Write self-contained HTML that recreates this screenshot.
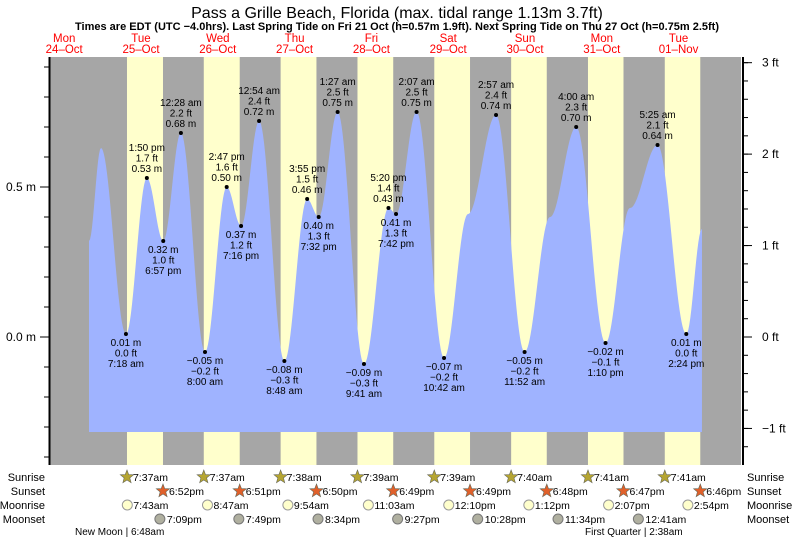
<!DOCTYPE html>
<html><head><meta charset="utf-8"><style>
html,body{margin:0;padding:0;background:#fff;}
svg{display:block;font-family:"Liberation Sans",sans-serif;}
</style></head><body>
<svg id="c" width="793" height="539" viewBox="0 0 793 539" xmlns="http://www.w3.org/2000/svg">
<text x="397" y="18" text-anchor="middle" font-size="16" fill="#000">Pass a Grille Beach, Florida (max. tidal range 1.13m 3.7ft)</text>
<text x="397" y="30" text-anchor="middle" font-size="11" font-weight="bold" fill="#000">Times are EDT (UTC −4.0hrs). Last Spring Tide on Fri 21 Oct (h=0.57m 1.9ft). Next Spring Tide on Thu 27 Oct (h=0.75m 2.5ft)</text>
<g id="plot"></g>
</svg>
<script>
// ---- data ----
const dayNames = ["Mon","Tue","Wed","Thu","Fri","Sat","Sun","Mon","Tue"];
const dayDates = ["24\u2013Oct","25\u2013Oct","26\u2013Oct","27\u2013Oct","28\u2013Oct","29\u2013Oct","30\u2013Oct","31\u2013Oct","01\u2013Nov"];
// tide points: [day index (0=24 Oct), hour, height m, label flag]
const tideDay = [0,0,1,1,1,2,2,2,2,3,3,3,3,4,4,4,4,5,5,5,6,6,6,7,7,7,8,8,8];
const tideHour = [19.75,23.5,7.3,13.83,18.95,0.47,8.0,14.78,19.27,0.9,8.8,15.92,19.53,1.45,9.68,17.33,19.7,2.12,10.7,18.2,2.95,11.87,19.8,4.0,13.17,20.8,5.42,14.4,19.3];
const tideHeight = [0.32,0.63,0.01,0.53,0.32,0.68,-0.05,0.50,0.37,0.72,-0.08,0.46,0.40,0.75,-0.09,0.43,0.41,0.75,-0.07,0.41,0.74,-0.05,0.40,0.70,-0.02,0.43,0.64,0.01,0.36];
const tideLabel = ["","","7:18 am","1:50 pm","6:57 pm","12:28 am","8:00 am","2:47 pm","7:16 pm","12:54 am","8:48 am","3:55 pm","7:32 pm","1:27 am","9:41 am","5:20 pm","7:42 pm","2:07 am","10:42 am","","2:57 am","11:52 am","","4:00 am","1:10 pm","","5:25 am","2:24 pm",""];
const tideFt = ["","","0.0 ft","1.7 ft","1.0 ft","2.2 ft","\u22120.2 ft","1.6 ft","1.2 ft","2.4 ft","\u22120.3 ft","1.5 ft","1.3 ft","2.5 ft","\u22120.3 ft","1.4 ft","1.3 ft","2.5 ft","\u22120.2 ft","","2.4 ft","\u22120.2 ft","","2.3 ft","\u22120.1 ft","","2.1 ft","0.0 ft",""];
const sunriseH = [7.62,7.62,7.63,7.65,7.65,7.67,7.68,7.68];
const sunsetH = [18.87,18.85,18.83,18.82,18.82,18.8,18.78,18.77];
const sunriseTxt = ["7:37am","7:37am","7:38am","7:39am","7:39am","7:40am","7:41am","7:41am"];
const sunsetTxt = ["6:52pm","6:51pm","6:50pm","6:49pm","6:49pm","6:48pm","6:47pm","6:46pm"];
const moonriseH = [7.72,8.78,9.9,11.05,12.17,13.2,14.12,14.9];
const moonriseTxt = ["7:43am","8:47am","9:54am","11:03am","12:10pm","1:12pm","2:07pm","2:54pm"];
const moonsetH = [19.15,19.82,20.57,21.45,22.47,23.57,24.68];
const moonsetTxt = ["7:09pm","7:49pm","8:34pm","9:27pm","10:28pm","11:34pm","12:41am"];
const mTicks = [0.0,0.5];
const ftTicks = [-1,0,1,2,3];

// ---- scales ----
const X0 = 25.8, PXD = 76.8;
const xT = (d,h) => X0 + d*PXD + h*PXD/24;
const yM = m => 337 - m*300;
const yF = f => yM(f*0.3048);
const NS = "http://www.w3.org/2000/svg";
const g = document.getElementById('plot');
function el(t, a, parent){const e=document.createElementNS(NS,t);for(const k in a)e.setAttribute(k,a[k]);(parent||g).appendChild(e);return e;}
function txt(x,y,s,a){const e=el('text',Object.assign({x:x,y:y},a||{}));e.textContent=s;return e;}

const TOP=57, BOT=465, LEFT=50, RIGHT=741;
let e;
e=el('rect',{x:LEFT,y:TOP,width:RIGHT-LEFT,height:BOT-TOP,fill:'#a6a6a6'});


for(let i=0;i<sunriseH.length;i++){
  const a=xT(i+1,sunriseH[i]), b=xT(i+1,sunsetH[i]);
  e=el('rect',{x:a,y:TOP,width:b-a,height:BOT-TOP,fill:'#ffffcc'});
  
  
}
// day labels
for(let i=0;i<dayNames.length;i++){
  const cx=xT(i,12);
  e=txt(cx,42,dayNames[i],{'text-anchor':'middle','font-size':'11.5',fill:'#ff0000'});
  
  
  e=txt(cx,53,dayDates[i],{'text-anchor':'middle','font-size':'11.5',fill:'#ff0000'});
  
  
}
// tide curve
const px=tideDay.map((d,i)=>xT(d,tideHour[i]));
let pts=[];
for(let i=0;i<px.length-1;i++){
  const x1=px[i],x2=px[i+1],h1=tideHeight[i],h2=tideHeight[i+1];
  for(let x=x1;x<x2;x+=1){const t=(x-x1)/(x2-x1);const h=h1+(h2-h1)*(1-Math.cos(Math.PI*t))/2;pts.push([x,yM(h)]);}
}
pts.push([px[px.length-1],yM(tideHeight[tideHeight.length-1])]);
let d='M'+px[0]+',432 '+pts.map(p=>'L'+p[0].toFixed(1)+','+p[1].toFixed(1)).join(' ')+' L'+px[px.length-1]+',432 Z';
e=el('path',{d:d,fill:'#9fb3ff'});


// extreme labels
for(let i=0;i<px.length;i++){
  if(!tideLabel[i])continue;
  const x=px[i],y=yM(tideHeight[i]);
  const high=(i>0&&tideHeight[i]>tideHeight[i-1]);
  e=el('circle',{cx:x,cy:y,r:2,fill:'#000'});
  
  
  const mtxt=(tideHeight[i]<0?'\u2212'+Math.abs(tideHeight[i]).toFixed(2):tideHeight[i].toFixed(2))+' m';
  const lines=high?[tideLabel[i],tideFt[i],mtxt]:[mtxt,tideFt[i],tideLabel[i]];
  const y0=high?y-27:y+12;
  lines.forEach((s,k)=>{
    e=txt(x,y0+k*10.5,s,{'text-anchor':'middle','font-size':'10',fill:'#000'});
    
    
  });
}
// left axis
e=el('line',{x1:LEFT-0.5,y1:TOP,x2:LEFT-0.5,y2:BOT,stroke:'#000','stroke-width':2});


for(let m=-0.4;m<=0.91;m+=0.1){const y=yM(m);if(y<TOP||y>BOT)continue;el('line',{x1:44,y1:y,x2:49,y2:y,stroke:'#000'});}
mTicks.forEach(m=>{
  el('line',{x1:40,y1:yM(m),x2:49,y2:yM(m),stroke:'#000'});
  e=txt(36,yM(m)+4,m.toFixed(1)+' m',{'text-anchor':'end','font-size':'12',fill:'#000'});
  
  
});
// right axis
e=el('line',{x1:743,y1:TOP,x2:743,y2:BOT,stroke:'#000','stroke-width':2});


for(let f=-1.4;f<=3.01;f+=0.2){const y=yF(f);if(y<TOP||y>BOT)continue;el('line',{x1:744,y1:y,x2:748,y2:y,stroke:'#000'});}
ftTicks.forEach(f=>{
  el('line',{x1:744,y1:yF(f),x2:752,y2:yF(f),stroke:'#000'});
  e=txt(762,yF(f)+4,(f<0?'\u2212'+Math.abs(f):f)+' ft',{'font-size':'12',fill:'#000'});
  
  
});
// bottom rows
const rows=[['Sunrise',481],['Sunset',495],['Moonrise',509],['Moonset',523]];
rows.forEach(r=>{
  e=txt(45,r[1],r[0],{'text-anchor':'end','font-size':'11',fill:'#000'});
  
  
  e=txt(747,r[1],r[0],{'font-size':'11',fill:'#000'});
  
  
});
function star(cx,cy,fill){let p=[];for(let k=0;k<10;k++){const r=k%2?3:7;const a=-Math.PI/2+k*Math.PI/5;p.push((cx+r*Math.cos(a)).toFixed(1)+','+(cy+r*Math.sin(a)).toFixed(1));}return el('polygon',{points:p.join(' '),fill:fill,stroke:'#665',"stroke-width":0.6});}
for(let i=0;i<sunriseH.length;i++){
  let x=xT(i+1,sunriseH[i]);
  e=star(x,477,'#b5a532');
  
  
  e=txt(x+6,481,sunriseTxt[i],{'font-size':'10.5',fill:'#000'});
  
  
  x=xT(i+1,sunsetH[i]);
  e=star(x,491,'#e0602a');
  
  
  e=txt(x+6,495,sunsetTxt[i],{'font-size':'10.5',fill:'#000'});
  
  
  x=xT(i+1,moonriseH[i]);
  e=el('circle',{cx:x,cy:505,r:5,fill:'#ffffcc',stroke:'#999'});
  
  
  e=txt(x+6,509,moonriseTxt[i],{'font-size':'10.5',fill:'#000'});
  
  
}
for(let i=0;i<moonsetH.length;i++){
  const x=xT(i+1,moonsetH[i])-4;
  e=el('circle',{cx:x,cy:519,r:5,fill:'#b0b0a0',stroke:'#777'});
  
  
  e=txt(x+7,523,moonsetTxt[i],{'font-size':'10.5',fill:'#000'});
  
  
}
e=txt(75,535,'New Moon | 6:48am',{'font-size':'10',fill:'#000'});


e=txt(585,535,'First Quarter | 2:38am',{'font-size':'10',fill:'#000'});


</script>
</body></html>
